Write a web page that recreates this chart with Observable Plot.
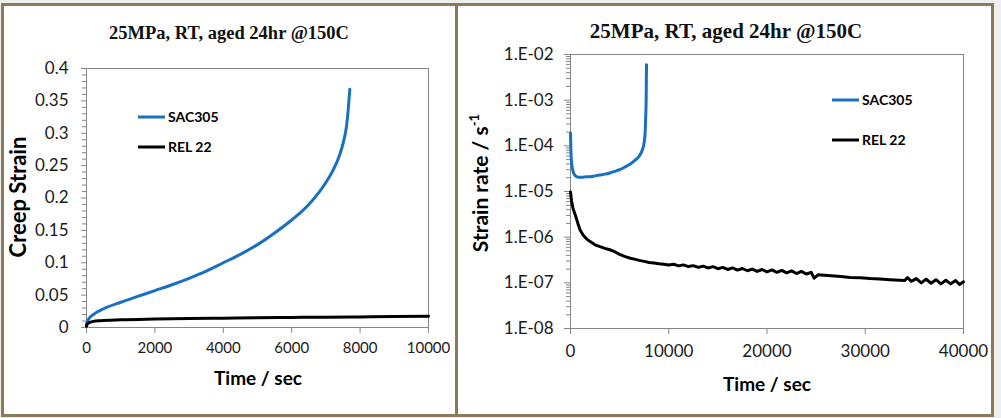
<!DOCTYPE html>
<html><head><meta charset="utf-8">
<script src="https://cdn.jsdelivr.net/npm/d3@7"></script>
<script src="https://cdn.jsdelivr.net/npm/@observablehq/plot@0.6"></script>
<style>
body{margin:0;background:#efefef;}
#page{position:relative;width:1001px;height:418px;overflow:hidden;background:#efefef;}
.panel{position:absolute;background:#fff;border:3px solid #8a7a55;box-sizing:border-box;}
.abs{position:absolute;white-space:nowrap;line-height:1;}
.title{font-family:"Liberation Serif",serif;font-weight:bold;color:#111;transform:translate(-50%,-50%);}
.axt{font-family:Lato,sans-serif;font-weight:bold;color:#000;font-size:19px;transform:translate(-50%,-50%);}
.rot{transform:translate(-50%,-50%) rotate(-90deg);}
.leg{font-family:Lato,sans-serif;font-weight:bold;font-size:14px;color:#000;transform:translateY(-50%);}
.sw{position:absolute;height:3px;transform:translateY(-50%);}
svg{position:absolute;top:0;}
</style></head><body><div id="page">
<div class="panel" style="left:1px;top:3px;width:457px;height:414px;"></div>
<div class="panel" style="left:455px;top:3px;width:539px;height:414px;"></div>
</div>
<script>
// ---------- data ----------
const seriesNames = ["SAC305", "REL 22"];
const seriesColors = ["#1a70c0", "#000000"];

// Left chart: creep strain vs time
const sacTimeL = [0, 50, 200, 500, 1000, 1500, 2000, 2500, 3000, 3500, 4000, 4500, 5000, 5500, 6000, 6500, 7000, 7200, 7400, 7500, 7600, 7650, 7680, 7700];
const sacStrainL = [0.005, 0.012, 0.020, 0.029, 0.039, 0.048, 0.057, 0.066, 0.076, 0.087, 0.100, 0.113, 0.128, 0.146, 0.166, 0.190, 0.224, 0.242, 0.266, 0.284, 0.310, 0.335, 0.355, 0.368];
const relTimeL = [0, 30, 100, 200, 400, 700, 1000, 2000, 3000, 4000, 5000, 6000, 7000, 8000, 9000, 10000];
const relStrainL = [0.002, 0.006, 0.008, 0.0095, 0.0105, 0.0113, 0.0119, 0.0130, 0.0138, 0.0144, 0.0150, 0.0155, 0.0160, 0.0164, 0.0168, 0.0174];
const leftXTicks = [0, 2000, 4000, 6000, 8000, 10000];
const leftYTicks = [0, 0.05, 0.1, 0.15, 0.2, 0.25, 0.3, 0.35, 0.4];
const leftYMinor = [0.01,0.02,0.03,0.04,0.06,0.07,0.08,0.09,0.11,0.12,0.13,0.14,0.16,0.17,0.18,0.19,0.21,0.22,0.23,0.24,0.26,0.27,0.28,0.29,0.31,0.32,0.33,0.34,0.36,0.37,0.38,0.39];

// Right chart: strain rate vs time
const sacTimeR = [0, 40, 100, 250, 500, 800, 1200, 1600, 2000, 2500, 3000, 3500, 4000, 4500, 5000, 5500, 6000, 6500, 7000, 7300, 7500, 7600, 7650, 7700, 7720, 7740];
const sacRateR = [1.9e-4, 8e-5, 4.5e-5, 2.8e-5, 2.2e-5, 2.05e-5, 2.05e-5, 2.1e-5, 2.1e-5, 2.2e-5, 2.3e-5, 2.4e-5, 2.55e-5, 2.75e-5, 3.0e-5, 3.4e-5, 3.9e-5, 4.7e-5, 6.0e-5, 8.0e-5, 1.2e-4, 2.0e-4, 4.0e-4, 1.0e-3, 3.0e-3, 6.0e-3];
const relTimeR = [0, 100, 250, 500, 750, 1000, 1300, 1600, 2000, 2500, 3000, 3500, 4000, 4500, 5000, 5500, 6000, 6500, 7000, 7500, 8000, 8500, 9000, 9500, 10000,
  10500, 11000, 11500, 12000, 12500, 13000, 13500, 14000, 14500, 15000, 15500, 16000, 16500, 17000, 17500, 18000, 18500, 19000, 19500, 20000,
  20500, 21000, 21500, 22000, 22500, 23000, 23500, 24000, 24500, 24800, 25200, 25500, 26500, 27500, 28500, 29500, 30500, 31500, 32500, 33500, 34000,
  34300, 34700, 35200, 35700, 36200, 36700, 37200, 37700, 38200, 38700, 39200, 39600, 40000];
const relRateR = [9.8e-6, 6.3e-6, 4.3e-6, 3.0e-6, 2.0e-6, 1.4e-6, 1.1e-6, 9.3e-7, 8.0e-7, 6.8e-7, 6.2e-7, 5.7e-7, 5.3e-7, 4.8e-7, 4.2e-7, 3.8e-7, 3.5e-7, 3.3e-7, 3.1e-7, 2.95e-7, 2.8e-7, 2.72e-7, 2.62e-7, 2.55e-7, 2.45e-7,
  2.55e-7, 2.35e-7, 2.47e-7, 2.27e-7, 2.38e-7, 2.18e-7, 2.32e-7, 2.12e-7, 2.26e-7, 2.04e-7, 2.18e-7, 1.96e-7, 2.12e-7, 1.9e-7, 2.06e-7, 1.84e-7, 2.0e-7, 1.78e-7, 1.96e-7, 1.74e-7,
  1.92e-7, 1.7e-7, 1.88e-7, 1.65e-7, 1.83e-7, 1.6e-7, 1.78e-7, 1.56e-7, 1.7e-7, 1.27e-7, 1.5e-7, 1.48e-7, 1.43e-7, 1.38e-7, 1.31e-7, 1.29e-7, 1.24e-7, 1.21e-7, 1.17e-7, 1.14e-7, 1.12e-7,
  1.3e-7, 1.08e-7, 1.24e-7, 1.0e-7, 1.2e-7, 0.98e-7, 1.17e-7, 0.95e-7, 1.14e-7, 0.95e-7, 1.12e-7, 0.92e-7, 1.05e-7];
const rightXTicks = [0, 10000, 20000, 30000, 40000];
const rightYTicks = [1e-8, 1e-7, 1e-6, 1e-5, 1e-4, 1e-3, 1e-2];
const minorMultipliers = [2, 3, 4, 5, 6, 7, 8, 9];

// ---------- build ----------
const zip = (t, v) => t.map((x, i) => ({t: x, v: v[i]}));
const page = document.getElementById("page");
const tickGrey = "#868686";
const txt = "#1a1a1a";

const left = Plot.plot({
  width: 455, height: 418,
  marginLeft: 86, marginRight: 27, marginTop: 68, marginBottom: 91,
  style: {background: "transparent", overflow: "visible"},
  x: {domain: [0, 10000]},
  y: {domain: [0, 0.4]},
  marks: [
    Plot.frame({stroke: tickGrey}),
    Plot.axisY(leftYMinor, {tickSize: 4, fill: "none", stroke: tickGrey, label: null}),
    Plot.axisY(leftYTicks, {tickSize: 5, tickPadding: 13, stroke: tickGrey, fill: txt, fontSize: 17, fontFamily: "Lato", tickFormat: d => String(+d.toFixed(2)), label: null}),
    Plot.axisX(leftXTicks, {tickSize: 6, tickPadding: 9, stroke: tickGrey, fill: txt, fontSize: 15, fontFamily: "Lato", tickFormat: d => String(d), label: null}),
    Plot.line(zip(sacTimeL, sacStrainL), {x: "t", y: "v", stroke: seriesColors[0], strokeWidth: 3, curve: "monotone-x"}),
    Plot.line(zip(relTimeL, relStrainL), {x: "t", y: "v", stroke: seriesColors[1], strokeWidth: 3, curve: "monotone-x"})
  ]
});
left.style.left = "0px";
page.appendChild(left);

const rightMinor = rightYTicks.slice(0, -1).flatMap(d => minorMultipliers.map(m => m * d));
const right = Plot.plot({
  width: 533, height: 418,
  marginLeft: 112, marginRight: 28, marginTop: 54, marginBottom: 90,
  style: {background: "transparent", overflow: "visible"},
  x: {domain: [0, 40000]},
  y: {type: "log", domain: [1e-8, 1e-2]},
  marks: [
    Plot.frame({stroke: tickGrey}),
    Plot.axisY(rightMinor, {tickSize: 4, fill: "none", stroke: tickGrey, label: null}),
    Plot.axisY(rightYTicks, {tickSize: 6, tickPadding: 11, stroke: tickGrey, fill: txt, fontSize: 17, fontFamily: "Lato",
      tickFormat: d => "1.E-" + String(-Math.round(Math.log10(d))).padStart(2, "0"), label: null}),
    Plot.axisX(rightXTicks, {tickSize: 6, tickPadding: 10, stroke: tickGrey, fill: txt, fontSize: 17, fontFamily: "Lato", tickFormat: d => String(d), label: null}),
    Plot.line(zip(sacTimeR, sacRateR), {x: "t", y: "v", stroke: seriesColors[0], strokeWidth: 3, curve: "monotone-x"}),
    Plot.line(zip(relTimeR, relRateR), {x: "t", y: "v", stroke: seriesColors[1], strokeWidth: 3})
  ]
});
right.style.left = "458px";
page.appendChild(right);

function addText(cls, html, x, y, style = "") {
  const d = document.createElement("div");
  d.className = "abs " + cls;
  d.style.cssText = `left:${x}px;top:${y}px;${style}`;
  d.innerHTML = html;
  page.appendChild(d);
}
function addLegend(x, y, gap) {
  seriesNames.forEach((name, i) => {
    const s = document.createElement("div");
    s.className = "sw";
    s.style.cssText = `left:${x}px;top:${y + i * gap}px;width:27px;background:${seriesColors[i]};`;
    page.appendChild(s);
    addText("leg", name, x + 30, y + i * gap);
  });
}
const titleText = "25MPa, RT, aged 24hr @150C";
addText("title", titleText, 229, 33, "font-size:18.5px;");
addText("title", titleText, 726, 31, "font-size:21px;");
addText("axt", "Time / sec", 258, 377);
addText("axt", "Time / sec", 767, 383);
addText("axt rot", "Creep Strain", 18, 197, "font-size:22px;");
addText("axt rot", "Strain rate / s<sup style='font-size:13px;vertical-align:9px;line-height:0'>-1</sup>", 479, 183, "font-size:21px;");
addLegend(138, 117, 30);
addLegend(832, 100, 40);
</script></body></html>
